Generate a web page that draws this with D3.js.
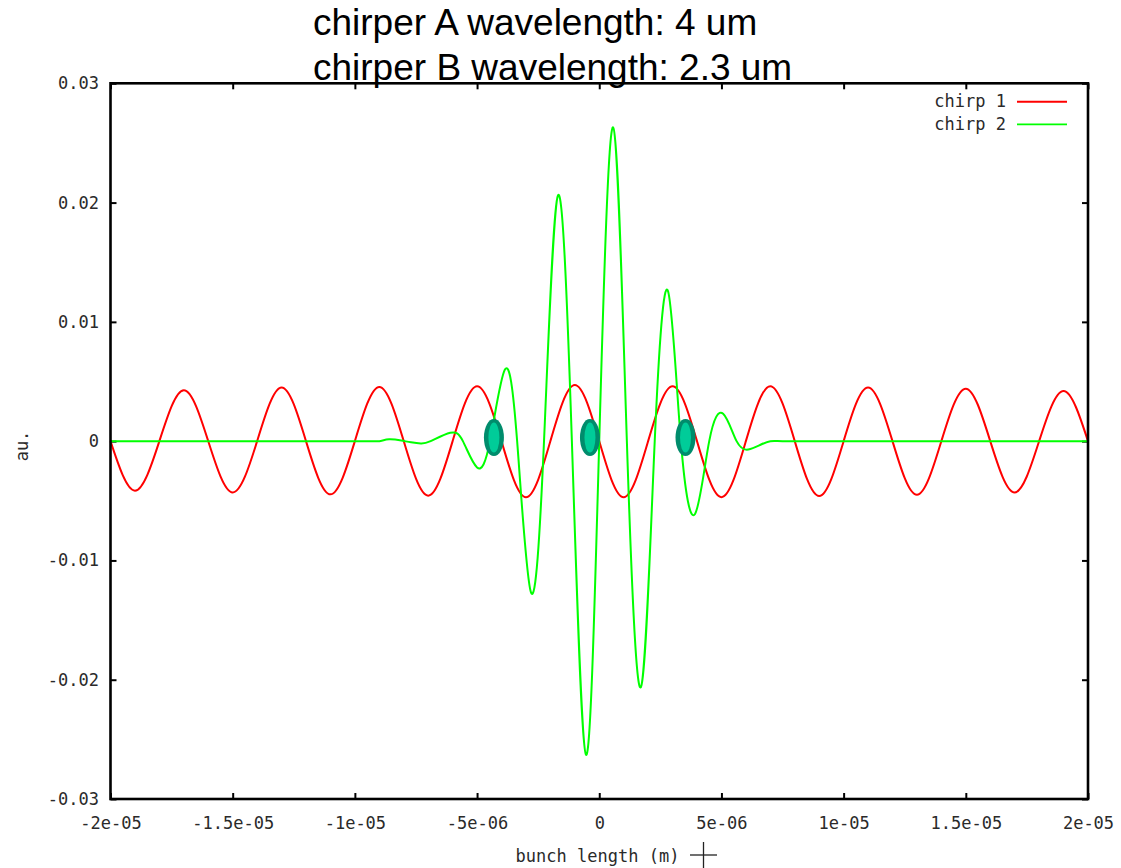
<!DOCTYPE html>
<html>
<head>
<meta charset="utf-8">
<script src="https://cdn.jsdelivr.net/npm/d3@7"></script>
<style>
  html, body { margin: 0; padding: 0; background: #fff; }
  svg { display: block; }
  .mono { font-family: "DejaVu Sans Mono", monospace; font-size: 17px; fill: #2a2a2a; }
</style>
</head>
<body>
<svg id="chart" width="1121" height="868"></svg>
<script>
// Bunch position in micrometres (axis labels are in metres)
const titleLines = ["chirper A wavelength: 4 um", "chirper B wavelength: 2.3 um"];

const xTicks = [-20, -15, -10, -5, 0, 5, 10, 15, 20];
const xTickLabels = ["-2e-05", "-1.5e-05", "-1e-05", "-5e-06", "0", "5e-06", "1e-05", "1.5e-05", "2e-05"];
const yTicks = [0.03, 0.02, 0.01, 0, -0.01, -0.02, -0.03];
const yTickLabels = ["0.03", "0.02", "0.01", "0", "-0.01", "-0.02", "-0.03"];

const seriesNames = ["chirp 1", "chirp 2"];
const seriesColors = ["#ff0000", "#00ff00"];

// chirp 1: zero crossings and extrema
const chirp1X = [-20, -19, -18, -17, -16, -15, -14, -13, -12, -11, -10, -9, -8, -7, -6, -5, -4, -3, -2, -1,
                 0, 1, 2, 3, 4, 5, 6, 7, 8, 9, 10, 11, 12, 13, 14, 15, 16, 17, 18, 19, 20];
const chirp1Y = [0, -0.00415, 0, 0.00427, 0, -0.0043, 0, 0.0045, 0, -0.00446, 0, 0.00455, 0, -0.00457, 0, 0.0046, 0, -0.0047, 0, 0.0047,
                 0, -0.0047, 0, 0.0046, 0, -0.0047, 0, 0.0046, 0, -0.0046, 0, 0.0045, 0, -0.0045, 0, 0.0044, 0, -0.0043, 0, 0.0042, 0];

// chirp 2: zero crossings and extrema
const chirp2X = [-20, -17, -14, -11, -9.5, -9.0, -8.6, -8.1, -7.7, -7.3, -6.9, -6.1, -5.58, -5.0, -4.47, -3.86, -3.36,
                 -2.79, -2.26, -1.69, -1.12, -0.54, 0.0, 0.57, 1.13, 1.71, 2.27, 2.81, 3.34, 3.92, 4.50, 5.07, 5.62,
                 6.10, 6.6, 7.0, 7.5, 9, 12, 15, 18, 20];
const chirp2Y = [0, 0, 0, 0, 0, 0, 0.00015, 0.00005, -0.0001, -0.0002, 0, 0.0007, 0, -0.0022, 0, 0.0060, 0,
                 -0.0127, 0, 0.0206, 0, -0.0263, 0, 0.0263, 0, -0.0206, 0, 0.0126, 0, -0.0061, 0, 0.0023, 0,
                 -0.0007, -0.0003, 0, 0, 0, 0, 0, 0, 0];

// highlighted positions on the axis
const markerX = [-4.31, -0.38, 3.53];
const markerY = [0.0003, 0.0003, 0.0003];

const svg = d3.select("#chart");
const plotLeft = 110.5, plotRight = 1088, plotTop = 83.3, plotBottom = 799;

const x = d3.scaleLinear().domain([-20, 20]).range([plotLeft, plotRight]);
const y = d3.scaleLinear().domain([-0.03, 0.03]).range([plotBottom, plotTop]);

// title text block
svg.append("g").selectAll("text").data(titleLines).join("text")
  .attr("x", 313)
  .attr("y", (d, i) => 35 + i * 45)
  .attr("font-family", "'Liberation Sans', Arial, sans-serif")
  .attr("font-size", 37)
  .attr("fill", "#000")
  .text(d => d);

// axes with inward ticks on all four sides
const tickLen = 6;
const gx = svg.append("g").attr("transform", `translate(0,${plotBottom})`)
  .call(d3.axisBottom(x).tickValues(xTicks).tickFormat((d, i) => xTickLabels[i])
    .tickSizeInner(-tickLen).tickSizeOuter(0).tickPadding(18));
const gxTop = svg.append("g").attr("transform", `translate(0,${plotTop})`)
  .call(d3.axisTop(x).tickValues(xTicks).tickFormat("").tickSizeInner(-tickLen).tickSizeOuter(0));
const gy = svg.append("g").attr("transform", `translate(${plotLeft},0)`)
  .call(d3.axisLeft(y).tickValues(yTicks).tickFormat((d, i) => yTickLabels[i])
    .tickSizeInner(-tickLen).tickSizeOuter(0).tickPadding(11.5));
const gyRight = svg.append("g").attr("transform", `translate(${plotRight},0)`)
  .call(d3.axisRight(y).tickValues(yTicks).tickFormat("").tickSizeInner(-tickLen).tickSizeOuter(0));

[gx, gxTop, gy, gyRight].forEach(g => {
  g.select(".domain").remove();
  g.selectAll(".tick line").attr("stroke", "#000").attr("stroke-width", 2);
  g.selectAll(".tick text").attr("class", "mono").attr("font-family", null).attr("font-size", null);
});

// curves
const line = d3.line()
  .x(d => x(d[0]))
  .y(d => y(d[1]))
  .curve(d3.curveNatural);

const plot = svg.append("g");
const series = [d3.zip(chirp1X, chirp1Y), d3.zip(chirp2X, chirp2Y)];
plot.selectAll("path").data(series).join("path")
  .attr("d", line)
  .attr("fill", "none")
  .attr("stroke", (d, i) => seriesColors[i])
  .attr("stroke-width", 2)
  .attr("stroke-linejoin", "round");

// frame
svg.append("rect")
  .attr("x", plotLeft).attr("y", plotTop)
  .attr("width", plotRight - plotLeft).attr("height", plotBottom - plotTop)
  .attr("fill", "none").attr("stroke", "#000").attr("stroke-width", 2.6);

// legend
const legend = svg.append("g");
seriesNames.forEach((name, i) => {
  const ly = 101.7 + i * 22.7;
  legend.append("text").attr("class", "mono")
    .attr("x", 1006).attr("y", ly + 5.5).attr("text-anchor", "end").text(name);
  legend.append("line")
    .attr("x1", 1017).attr("x2", 1067).attr("y1", ly).attr("y2", ly)
    .attr("stroke", seriesColors[i]).attr("stroke-width", 1.9);
});

// axis titles
svg.append("text").attr("class", "mono")
  .attr("x", 597.5).attr("y", 862).attr("text-anchor", "middle")
  .text("bunch length (m)");
svg.append("text").attr("class", "mono")
  .attr("transform", "translate(28,446) rotate(-90)")
  .attr("text-anchor", "middle")
  .text("au.");

// pointer crosshair beside the x-axis title
const cross = svg.append("g").attr("stroke", "#222").attr("stroke-width", 1.3);
cross.append("line").attr("x1", 690).attr("x2", 717).attr("y1", 855).attr("y2", 855);
cross.append("line").attr("x1", 703.5).attr("x2", 703.5).attr("y1", 842).attr("y2", 868);

// marker ellipses
const markers = svg.append("g").selectAll("g").data(d3.zip(markerX, markerY)).join("g")
  .attr("transform", d => `translate(${x(d[0])},${y(d[1])})`);
markers.append("ellipse").attr("rx", 10).attr("ry", 18.5).attr("fill", "#008c6c");
markers.append("ellipse").attr("rx", 5.5).attr("ry", 15).attr("fill", "#00cc99");
</script>
</body>
</html>
